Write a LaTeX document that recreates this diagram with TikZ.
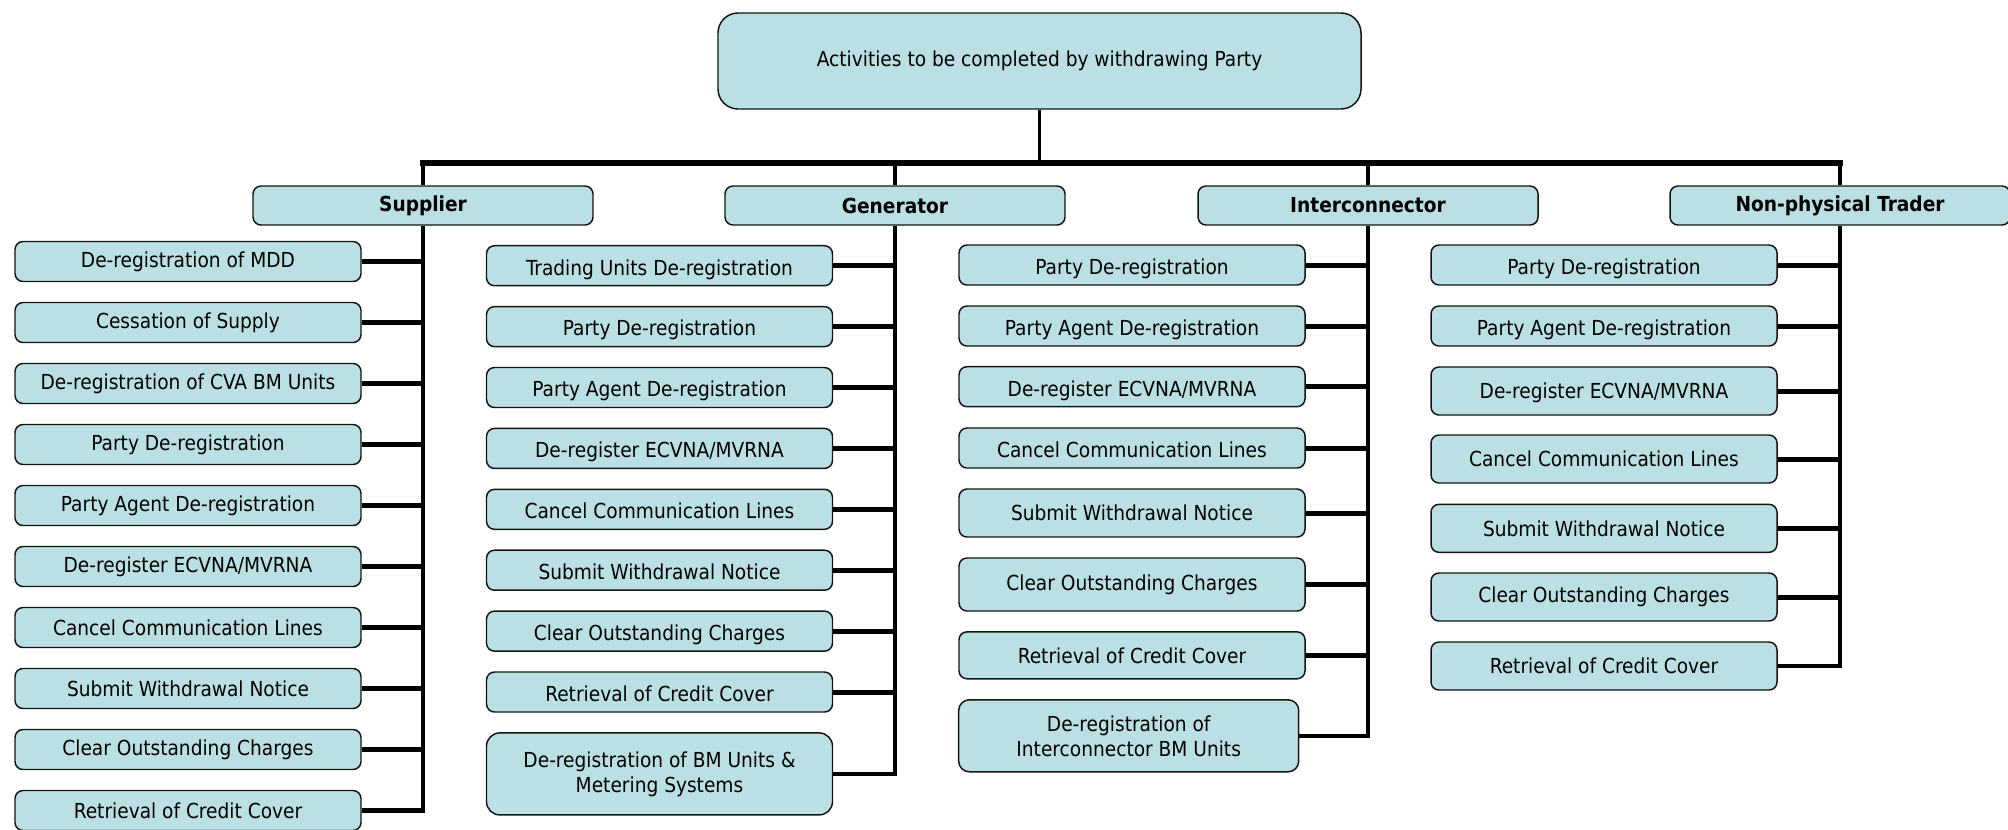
\documentclass[tikz,border=0pt]{standalone}
\usepackage{fontspec}
\setmainfont{DejaVu Sans Condensed}
\definecolor{boxfill}{RGB}{186,224,228}
\definecolor{boxline}{RGB}{20,20,20}
\tikzset{
  bw/.style={minimum width=#1*0.75pt},
  bh/.style={minimum height=#1*0.75pt},
  base/.style={draw=boxline, line width=1.1pt, fill=boxfill, inner sep=0pt, align=center,
     font=\fontsize{15.5}{18.75}\selectfont},
  kid/.style={base, rounded corners=6pt, bw=346, bh=40},
  lo/.style={text height=17.5pt, text depth=3.5pt},
  lohalf/.style={text height=14.5pt, text depth=3.5pt},
  cat/.style={base, rounded corners=6pt, bw=340, bh=39, font=\fontsize{15.5}{18.75}\selectfont\bfseries},
  topbox/.style={base, rounded corners=15pt, bw=643, bh=96},
  busline/.style={line width=4.1pt, line cap=rect},
  dropline/.style={line width=2.6pt},
  colline/.style={line width=3.4pt, line join=miter},
  stub/.style={line width=3.75pt}
}
\begin{document}
\begin{tikzpicture}[x=0.75pt,y=-0.75pt]
\useasboundingbox (0,0) rectangle (2008,829);

% top
\node[topbox] (top) at (1039.5,61) {Activities to be completed by withdrawing Party};

% categories
\node[cat] (sup) at (423,205.5) {Supplier};
\node[cat] (gen) at (895,205.5) {Generator};
\node[cat] (int) at (1368,205.5) {Interconnector};
\node[cat] (npt) at (1840,205.5) {Non-physical Trader};

% bus
\coordinate (busL) at (423,163);
\draw[dropline] (top.south) -- (top.south |- busL);
\draw[busline] (sup.north |- busL) -- (npt.north |- busL);
\draw[dropline] (sup.north) -- (sup.north |- busL);
\draw[dropline] (gen.north) -- (gen.north |- busL);
\draw[dropline] (int.north) -- (int.north |- busL);
\draw[dropline] (npt.north) -- (npt.north |- busL);

% Supplier children
\node[kid] (s1) at (188,261.5) {De-registration of MDD};
\node[kid] (s2) at (188,322.5) {Cessation of Supply};
\node[kid] (s3) at (188,383.5) {De-registration of CVA BM Units};
\node[kid] (s4) at (188,444.5) {Party De-registration};
\node[kid] (s5) at (188,505.5) {Party Agent De-registration};
\node[kid] (s6) at (188,566.5) {De-register ECVNA/MVRNA};
\node[kid] (s7) at (188,627.5) {Cancel Communication Lines};
\node[kid] (s8) at (188,688.5) {Submit Withdrawal Notice};
\node[kid] (s9) at (188,749.5) {Clear Outstanding Charges};
\node[kid] (s10) at (188,810.5) {Retrieval of Credit Cover};
\draw[colline] (sup.south) |- (s10.east);
\foreach \n in {s1,s2,s3,s4,s5,s6,s7,s8,s9}
  \draw[stub] (\n.east) -- (\n.east -| sup.south);

% Generator children
\node[kid, lo] (g1) at (659.5,265.7) {Trading Units De-registration};
\node[kid, lo] (g2) at (659.5,326.6) {Party De-registration};
\node[kid, lo] (g3) at (659.5,387.5) {Party Agent De-registration};
\node[kid, lo] (g4) at (659.5,448.4) {De-register ECVNA/MVRNA};
\node[kid, lo] (g5) at (659.5,509.3) {Cancel Communication Lines};
\node[kid, lo] (g6) at (659.5,570.2) {Submit Withdrawal Notice};
\node[kid, lo] (g7) at (659.5,631.1) {Clear Outstanding Charges};
\node[kid, lo] (g8) at (659.5,692) {Retrieval of Credit Cover};
\node[kid, bh=82, rounded corners=10pt] (g9) at (659.5,773.9) {De-registration of BM Units \&\\Metering Systems};
\draw[colline] (gen.south) |- (g9.east);
\foreach \n in {g1,g2,g3,g4,g5,g6,g7,g8}
  \draw[stub] (\n.east) -- (\n.east -| gen.south);

% Interconnector children
\node[kid, lo] (i1) at (1132,265) {Party De-registration};
\node[kid, lo] (i2) at (1132,326) {Party Agent De-registration};
\node[kid, lo] (i3) at (1132,386.7) {De-register ECVNA/MVRNA};
\node[kid, lo] (i4) at (1132,448) {Cancel Communication Lines};
\node[kid, bh=48] (i5) at (1132,513) {Submit Withdrawal Notice};
\node[kid, bh=53] (i6) at (1132,584.5) {Clear Outstanding Charges};
\node[kid, bh=47] (i7) at (1132,655.3) {Retrieval of Credit Cover};
\node[kid, bw=340, bh=72, rounded corners=8pt] (i8) at (1128.7,735.8) {De-registration of\\Interconnector BM Units};
\draw[colline] (int.south) |- (i8.east);
\foreach \n in {i1,i2,i3,i4,i5,i6,i7}
  \draw[stub] (\n.east) -- (\n.east -| int.south);

% Non-physical Trader children
\node[kid, lo] (n1) at (1604,265) {Party De-registration};
\node[kid, lo] (n2) at (1604,326) {Party Agent De-registration};
\node[kid, bh=48, lohalf] (n3) at (1604,391) {De-register ECVNA/MVRNA};
\node[kid, bh=48] (n4) at (1604,459) {Cancel Communication Lines};
\node[kid, bh=48] (n5) at (1604,528.3) {Submit Withdrawal Notice};
\node[kid, bh=48] (n6) at (1604,597) {Clear Outstanding Charges};
\node[kid, bh=48] (n7) at (1604,666) {Retrieval of Credit Cover};
\draw[colline] (npt.south) |- (n7.east);
\foreach \n in {n1,n2,n3,n4,n5,n6}
  \draw[stub] (\n.east) -- (\n.east -| npt.south);
\end{tikzpicture}
\end{document}
